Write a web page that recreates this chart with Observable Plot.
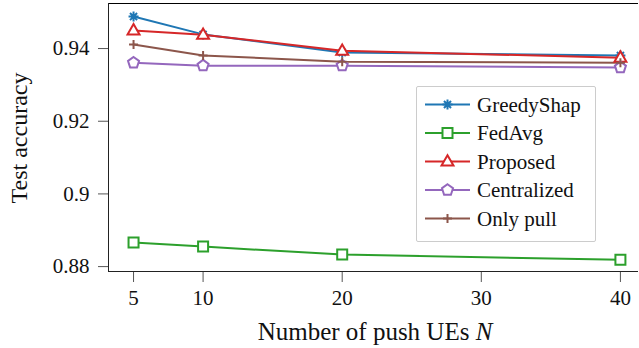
<!DOCTYPE html>
<html>
<head>
<meta charset="utf-8">
<script src="https://cdn.jsdelivr.net/npm/d3@7"></script>
<script src="https://cdn.jsdelivr.net/npm/@observablehq/plot@0.6"></script>
<style>
  html, body { margin: 0; padding: 0; background: #fff; }
  #chart svg { display: block; }
</style>
</head>
<body>
<div id="chart"></div>
<script>
const N = [5, 10, 20, 40];
const seriesNames = ["GreedyShap", "FedAvg", "Proposed", "Centralized", "Only pull"];
const greedyShap = [0.9488, 0.9439, 0.9389, 0.9381];
const fedAvg = [0.8866, 0.8855, 0.8833, 0.8819];
const proposed = [0.9450, 0.9438, 0.9394, 0.9375];
const centralized = [0.9361, 0.9353, 0.9353, 0.9348];
const onlyPull = [0.9411, 0.9381, 0.9364, 0.9361];
const yTicks = [0.88, 0.9, 0.92, 0.94];
const yTickLabels = ["0.88", "0.9", "0.92", "0.94"];
const xTicks = [5, 10, 20, 30, 40];

const colors = ["#1f77b4", "#2ca02c", "#d62728", "#9467bd", "#8c564b"];
const SERIF = "Liberation Serif";

const pentagon = {
  draw(context, size) {
    const r = Math.sqrt(size / 2.38);
    for (let i = 0; i < 5; i++) {
      const a = -Math.PI / 2 + i * 2 * Math.PI / 5;
      const x = r * Math.cos(a), y = r * Math.sin(a);
      if (i === 0) context.moveTo(x, y); else context.lineTo(x, y);
    }
    context.closePath();
  }
};
const star = {
  draw(context, size) {
    const r = Math.sqrt(size) * 0.5;
    for (let i = 0; i < 4; i++) {
      const a = i * Math.PI / 4;
      context.moveTo(r * Math.cos(a), r * Math.sin(a));
      context.lineTo(-r * Math.cos(a), -r * Math.sin(a));
    }
  }
};
const plusSym = {
  draw(context, size) {
    const r = Math.sqrt(size) * 0.45;
    context.moveTo(-r, 0); context.lineTo(r, 0);
    context.moveTo(0, -r); context.lineTo(0, r);
  }
};
const triangle = {
  draw(context, size) {
    const r = Math.sqrt(size) * 0.6;
    context.moveTo(0, -r);
    context.lineTo(r * 0.95, r * 0.65);
    context.lineTo(-r * 0.95, r * 0.65);
    context.closePath();
  }
};
const squareSym = {
  draw(context, size) {
    const r = Math.sqrt(size) * 0.5;
    context.rect(-r, -r, 2 * r, 2 * r);
  }
};
const symbols = [star, squareSym, triangle, pentagon, plusSym];
const fills = ["none", "white", "white", "white", "none"];
const sizes = [100, 100, 110, 80, 100];
const values = [greedyShap, fedAvg, proposed, centralized, onlyPull];

const data = [];
seriesNames.forEach((s, k) => N.forEach((n, i) => data.push({series: s, k, N: n, acc: values[k][i]})));

const marks = [];
const xDomain = [3.2, 41.3];
const yDomain = [0.87865, 0.9524];
marks.push(Plot.ruleY([yDomain[1]], {stroke: "black", strokeWidth: 1}));
marks.push(Plot.ruleY([yDomain[0]], {stroke: "#222", strokeWidth: 1}));
marks.push(Plot.ruleX([xDomain[0]], {stroke: "#222", strokeWidth: 1}));
seriesNames.forEach((s, k) => {
  const d = data.filter(r => r.k === k);
  marks.push(Plot.line(d, {x: "N", y: "acc", stroke: colors[k], strokeWidth: 2}));
});
seriesNames.forEach((s, k) => {
  const d = data.filter(r => r.k === k);
  marks.push(Plot.dot(d, {x: "N", y: "acc", stroke: colors[k], fill: fills[k], strokeWidth: 2, symbol: () => symbols[k], r: Math.sqrt(sizes[k] / Math.PI)}));
});

const fmt = (d) => yTickLabels[yTicks.indexOf(d)] ?? String(d);
const chart = Plot.plot({
  width: 639,
  height: 348,
  marginLeft: 108,
  marginRight: 1,
  marginTop: 3,
  marginBottom: 77,
  x: {domain: xDomain, label: null},
  y: {domain: yDomain, label: null},
  symbol: {type: "identity"},
  marks: [
    Plot.axisX({ticks: xTicks, tickSize: 11, tickPadding: 8, stroke: "#555", fill: "#111", fontSize: 21, label: null}),
    Plot.axisY({ticks: yTicks, tickSize: 10, tickPadding: 9, stroke: "#555", fill: "#111", fontSize: 21, label: null, tickFormat: fmt}),
    ...marks
  ]
});

const svg = d3.select(chart);
svg.attr("font-family", SERIF).style("font-family", SERIF).style("background", "white");
// axis titles
svg.append("text")
  .attr("x", 375).attr("y", 340)
  .attr("text-anchor", "middle")
  .style("font-size", "25px").attr("fill", "#111")
  .html('Number of push UEs <tspan font-style="italic">N</tspan>');
svg.append("text")
  .attr("transform", "translate(27,138) rotate(-90)")
  .attr("text-anchor", "middle")
  .style("font-size", "24px").attr("fill", "#111")
  .text("Test accuracy");

// legend
const lg = svg.append("g");
lg.append("rect").attr("x", 416.5).attr("y", 86.5).attr("width", 179).attr("height", 155)
  .attr("fill", "white").attr("fill-opacity", 0.85).attr("stroke", "#ccc").attr("stroke-width", 1).attr("rx", 1.5);
seriesNames.forEach((s, k) => {
  const y = 104.5 + k * 28.5;
  lg.append("line").attr("x1", 425).attr("x2", 470).attr("y1", y).attr("y2", y)
    .attr("stroke", colors[k]).attr("stroke-width", 2);
  lg.append("path").attr("d", d3.symbol(symbols[k], sizes[k])())
    .attr("transform", `translate(447.5,${y})`)
    .attr("stroke", colors[k]).attr("fill", fills[k]).attr("stroke-width", 2);
  lg.append("text").attr("x", 477).attr("y", y).attr("dy", "0.35em")
    .attr("text-anchor", "start")
    .style("font-size", "21px").attr("fill", "#111")
    .text(s);
});
svg.selectAll("text").style("font-family", SERIF);
svg.selectAll("g").attr("font-family", null);

document.getElementById("chart").appendChild(chart);
</script>
</body>
</html>
